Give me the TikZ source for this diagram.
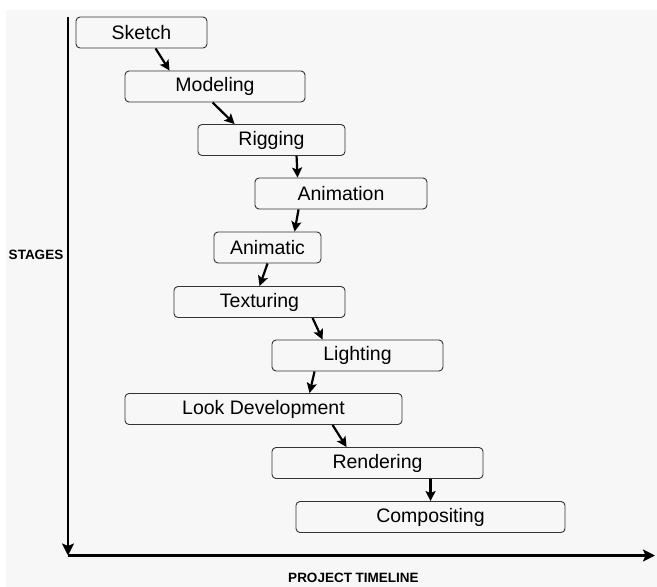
\documentclass[tikz,border=0pt]{standalone}
\usepackage{fontspec}
\setmainfont{Liberation Sans}
\usetikzlibrary{arrows.meta,calc}
\definecolor{bggray}{HTML}{F7F7F7}
\definecolor{boxline}{HTML}{333333}
\begin{document}
\begin{tikzpicture}[x=1pt,y=-1pt,
  stagebox/.style={draw=boxline,line width=0.9pt,rounded corners=4pt,
    minimum height=31pt,inner sep=0pt,font=\fontsize{19.5}{22}\selectfont},
  flow/.style={line width=2.2pt,-{Stealth[length=10pt,width=10pt,inset=2pt]}},
  axis/.style={line width=2.4pt,-{Stealth[length=12pt,width=12pt,inset=2.5pt]}},
  axlabel/.style={font=\bfseries\fontsize{13.5}{15}\selectfont,inner sep=0pt}]
\useasboundingbox (0,0) rectangle (657,587);
\fill[white] (0,0) rectangle (657,587);
\fill[bggray] (6,10) rectangle (657,587);

\node[stagebox,minimum width=131pt] (sketch) at (141.5,32.5) {Sketch};
\node[stagebox,minimum width=180pt] (modeling) at (215,86.5) {Modeling};
\node[stagebox,minimum width=147pt] (rigging) at (271.5,140) {Rigging};
\node[stagebox,minimum width=172pt] (animation) at (341,193.5) {Animation};
\node[stagebox,minimum width=107pt] (animatic) at (267.5,247.5) {Animatic};
\node[stagebox,minimum width=171pt] (texturing) at (259.5,302) {Texturing};
\node[stagebox,minimum width=171pt] (lighting) at (357.5,355.5) {Lighting};
\node[stagebox,minimum width=277pt] (lookdev) at (263.5,409) {Look Development};
\node[stagebox,minimum width=211pt] (rendering) at (377.5,463) {Rendering};
\node[stagebox,minimum width=269pt] (compositing) at (430.5,517) {Compositing};

\draw[flow] ($(sketch.south west)+(80,0)$) -- ($(modeling.north west)+(45,0)$);
\draw[flow] ($(modeling.south west)+(88,0)$) -- ($(rigging.north west)+(37,0)$);
\draw[flow] ($(rigging.south west)+(99,0)$) -- ($(animation.north west)+(43,0)$);
\draw[flow] ($(animation.south west)+(44,0)$) -- ($(animatic.north west)+(81,0)$);
\draw[flow] ($(animatic.south west)+(54,0)$) -- ($(texturing.north west)+(86,0)$);
\draw[flow] ($(texturing.south west)+(139,0)$) -- ($(lighting.north west)+(51,0)$);
\draw[flow] ($(lighting.south west)+(43,0)$) -- ($(lookdev.north west)+(185,0)$);
\draw[flow] ($(lookdev.south west)+(208,0)$) -- ($(rendering.north west)+(75,0)$);
\draw[flow] ($(rendering.south west)+(159,0)$) -- ($(compositing.north west)+(135,0)$);

\coordinate (axtop) at (68,17);
\coordinate (axorigin) at (68,555.5);
\coordinate (axright) at (655,555.5);
\draw[axis] (axtop) -- (axorigin);
\draw[line width=2.4pt] (axorigin) -- ++(2,0);
\draw[axis] (axorigin) -- (axright);

\node[axlabel] (stages) at (36,255) {STAGES};
\node[axlabel] (timeline) at (353.5,578) {PROJECT TIMELINE};
\end{tikzpicture}
\end{document}
